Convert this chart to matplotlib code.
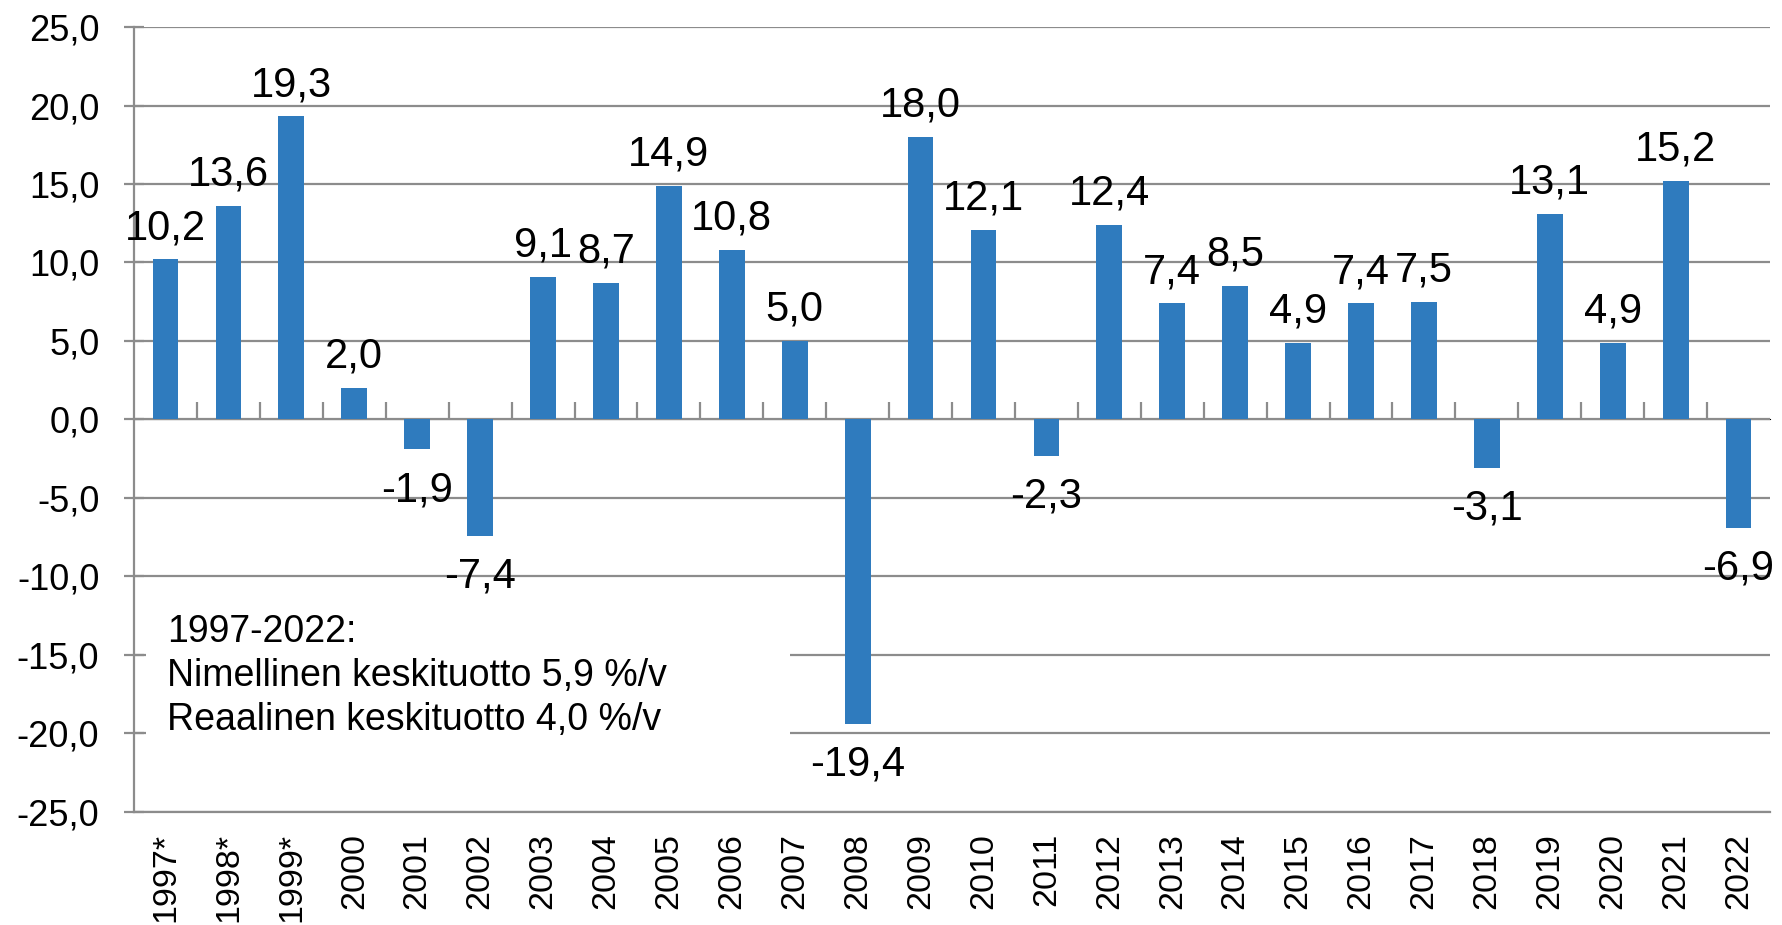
import matplotlib
matplotlib.use('Agg')
import matplotlib.pyplot as plt
from matplotlib.patches import Rectangle

# data
years = ['1997*', '1998*', '1999*', '2000', '2001', '2002', '2003', '2004', '2005',
         '2006', '2007', '2008', '2009', '2010', '2011', '2012', '2013', '2014',
         '2015', '2016', '2017', '2018', '2019', '2020', '2021', '2022']
returns = [10.2, 13.6, 19.3, 2.0, -1.9, -7.4, 9.1, 8.7, 14.9,
           10.8, 5.0, -19.4, 18.0, 12.1, -2.3, 12.4, 7.4, 8.5,
           4.9, 7.4, 7.5, -3.1, 13.1, 4.9, 15.2, -6.9]
y_ticks = [25, 20, 15, 10, 5, 0, -5, -10, -15, -20, -25]
note_lines = ['1997-2022:', 'Nimellinen keskituotto 5,9 %/v', 'Reaalinen keskituotto 4,0 %/v']

plt.rcParams['font.family'] = ['Liberation Sans', 'DejaVu Sans']

bar_color = '#2F7BBE'
grid_color = '#8C8C8C'

fig = plt.figure(figsize=(17.83, 9.25), dpi=100)
ax = fig.add_axes([0.0752, 0.1222, 0.9175, 0.8486])

x = list(range(len(years)))
ax.bar(x, returns, width=0.41, color=bar_color, zorder=3)

ax.set_xlim(-0.5, len(years) - 0.5)
ax.set_ylim(-25, 25)
ax.set_yticks(y_ticks)
ax.set_yticklabels([f'{v:.1f}'.replace('.', ',') for v in y_ticks], fontsize=26)
ax.yaxis.grid(True, color=grid_color, linewidth=1.6, zorder=0)
ax.tick_params(axis='y', direction='inout', length=14, width=1.6, color=grid_color, pad=18)

ax.set_xticks(x)
ax.set_xticklabels(years, rotation=90, fontsize=24.5, va='top')
ax.tick_params(axis='x', length=0, pad=15)

for s in ['top', 'right']:
    ax.spines[s].set_visible(False)
for s in ['left', 'bottom']:
    ax.spines[s].set_color(grid_color)
    ax.spines[s].set_linewidth(1.6)
    ax.spines[s].set_zorder(5)

# category axis at zero with tick marks between bars
sec = ax.secondary_xaxis(0.5)
sec.set_xticks([i + 0.5 for i in x[:-1]])
sec.set_xticklabels([])
sec.tick_params(length=12, width=1.6, color=grid_color)
sec.spines['bottom'].set_color(grid_color)
sec.spines['bottom'].set_linewidth(1.6)

# value labels
for xi, v in zip(x, returns):
    off = 8 if v >= 0 else -15
    ax.annotate(f'{v:.1f}'.replace('.', ','), (xi, v), xytext=(0, off),
                textcoords='offset points', ha='center',
                va='bottom' if v >= 0 else 'top', fontsize=30, zorder=6)

# white text box hiding the grid lines
ax.add_patch(Rectangle((0.007, 0.03), 0.394, 0.245, transform=ax.transAxes,
                       facecolor='white', edgecolor='none', zorder=2))
ax.text(0.02, 0.252, '\n'.join(note_lines), transform=ax.transAxes,
        fontsize=27, va='top', ha='left', linespacing=1.28, zorder=4)

fig.savefig('out.png', dpi=100)
